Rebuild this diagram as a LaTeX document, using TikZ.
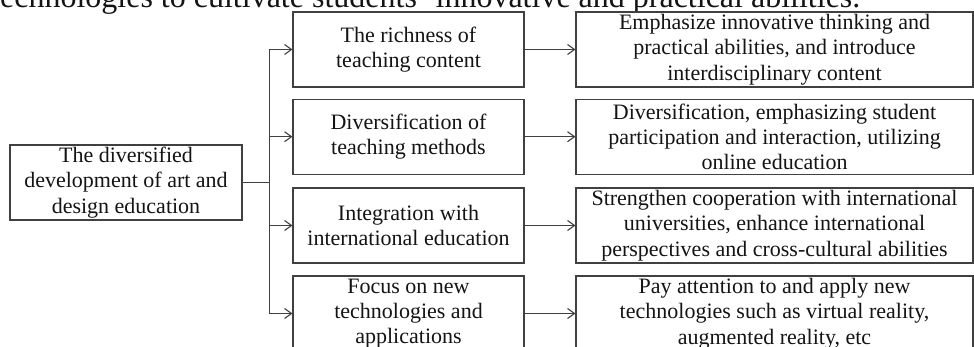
\documentclass[tikz,border=0pt]{standalone}
\usepackage{fontspec}
\setmainfont{Liberation Serif}
\usetikzlibrary{arrows.meta}
\definecolor{linegray}{RGB}{64,64,64}
\definecolor{txt}{RGB}{20,20,20}
\begin{document}
\begin{tikzpicture}[x=1pt,y=-1pt,
  box/.style={draw=linegray, line width=1.1pt, fill=white, align=center, inner sep=0pt,
    text=txt, font=\fontsize{22}{25.3}\selectfont},
  midbox/.style={box, minimum width=231pt, minimum height=75pt},
  rightbox/.style={box, minimum width=397pt, minimum height=75pt},
  link/.style={draw=linegray, line width=1.1pt, -{Straight Barb[length=7pt,width=10pt]}},
  plain/.style={draw=linegray, line width=1.1pt}]
\useasboundingbox (0,0) rectangle (974,347);
\clip (0,0) rectangle (974,347);

\node[anchor=base west, text=txt, font=\fontsize{32}{38}\selectfont, inner sep=0pt] (top) at (-9,7.5)
  {technologies to cultivate students' innovative and practical abilities.};

\node[box, minimum width=232pt, minimum height=75pt] (root) at (126,182.5)
  {The diversified\\development of art and\\design education};

\node[midbox] (m1) at (408.5,49.5) {The richness of\\teaching content};
\node[midbox] (m2) at (408.5,136.7) {Diversification of\\teaching methods};
\node[midbox] (m3) at (408.5,225.5) {Integration with\\international education};
\node[midbox] (m4) at (408.5,313.5) {Focus on new\\technologies and\\applications};

\node[rightbox] (r1) at (774.5,49.5) {Emphasize innovative thinking and\\practical abilities, and introduce\\interdisciplinary content};
\node[rightbox] (r2) at (774.5,136.7) {Diversification, emphasizing student\\participation and interaction, utilizing\\online education};
\node[rightbox] (r3) at (774.5,225.5) {Strengthen cooperation with international\\universities, enhance international\\perspectives and cross-cultural abilities};
\node[rightbox] (r4) at (774.5,313.5) {Pay attention to and apply new\\technologies such as virtual reality,\\augmented reality, etc};

\coordinate (trunk) at ([xshift=27pt]root.east);
\draw[plain] (root.east) -- (trunk);
\foreach \i in {1,2,3,4}{
  \draw[link] (trunk) |- (m\i.west);
  \draw[link] (m\i.east) -- (r\i.west);
}
\end{tikzpicture}
\end{document}
